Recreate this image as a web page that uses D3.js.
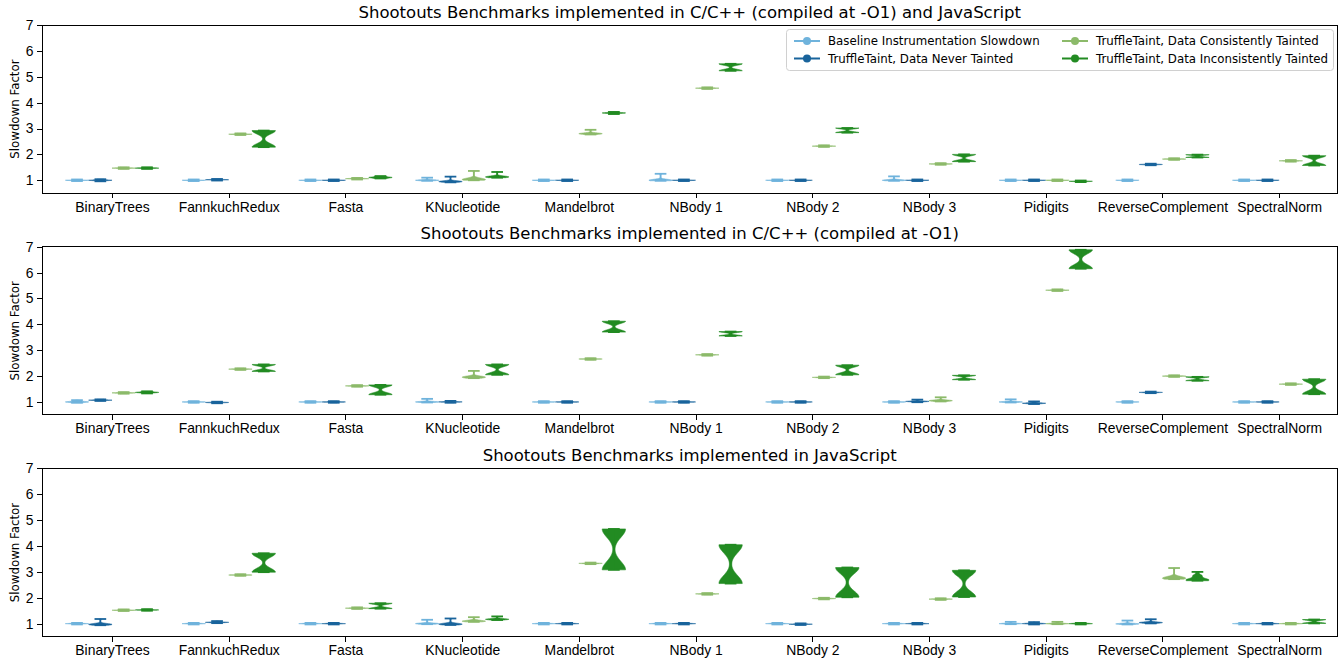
<!DOCTYPE html>
<meta charset="utf-8">
<style>
body { margin: 0; background: #fff; }
svg { font-family: "DejaVu Sans", sans-serif; }
.frame { fill: none; stroke: #000; stroke-width: 1; shape-rendering: crispEdges; }
.axis path { display: none; }
.axis line { stroke: #000; shape-rendering: crispEdges; }
.axis text { fill: #000; font-size: 13.9px; }
</style>
<body>
<svg id="chart" width="1342" height="659"></svg>
<script src="https://cdn.jsdelivr.net/npm/d3@7/dist/d3.min.js"></script>
<script>

var benchmarks = ["BinaryTrees", "FannkuchRedux", "Fasta", "KNucleotide", "Mandelbrot", "NBody 1",
                  "NBody 2", "NBody 3", "Pidigits", "ReverseComplement", "SpectralNorm"];
var seriesNames = ["Baseline Instrumentation Slowdown", "TruffleTaint, Data Never Tainted",
                   "TruffleTaint, Data Consistently Tainted", "TruffleTaint, Data Inconsistently Tainted"];
var seriesColors = ["#6fb3dc", "#19649c", "#8cba6a", "#228b22"];
var panelTitles = ["Shootouts Benchmarks implemented in C/C++ (compiled at -O1) and JavaScript",
                   "Shootouts Benchmarks implemented in C/C++ (compiled at -O1)",
                   "Shootouts Benchmarks implemented in JavaScript"];
var yTicks = [1, 2, 3, 4, 5, 6, 7];

// each violin = list of [slowdown, number of runs]
// panel 1: C/C++ and JavaScript
var bothBaseline = [
  [[0.97,2],[1.0,8],[1.03,2]], [[0.97,2],[1.0,8],[1.03,2]], [[0.97,2],[1.0,8],[1.03,2]],
  [[0.98,3],[1.0,10],[1.02,3],[1.1,1]], [[0.97,2],[1.0,8],[1.03,2]], [[0.98,3],[1.0,10],[1.02,3],[1.25,1]],
  [[0.97,2],[1.0,8],[1.03,2]], [[0.98,3],[1.0,10],[1.02,3],[1.15,1]], [[0.97,2],[1.0,8],[1.03,2]],
  [[0.97,2],[1.0,8],[1.03,2]], [[0.97,2],[1.0,8],[1.03,2]]
];
var bothNever = [
  [[0.96,2],[1.0,8],[1.04,2]], [[0.99,2],[1.02,8],[1.05,2]], [[0.97,2],[1.0,8],[1.03,2]],
  [[0.92,3],[0.95,10],[0.97,3],[1.14,1]], [[0.97,2],[1.0,8],[1.03,2]], [[0.97,2],[1.0,8],[1.03,2]],
  [[0.97,2],[1.0,8],[1.03,2]], [[0.97,2],[1.0,8],[1.03,2]], [[0.97,2],[1.0,8],[1.03,2]],
  [[1.58,2],[1.61,8],[1.64,2]], [[0.97,2],[1.0,8],[1.03,2]]
];
var bothConsistent = [
  [[1.44,2],[1.47,8],[1.5,2]], [[2.75,2],[2.78,8],[2.81,2]], [[1.03,2],[1.06,8],[1.09,2]],
  [[1.0,5],[1.03,8],[1.08,3],[1.36,1]], [[2.77,3],[2.8,10],[2.83,3],[2.95,1]], [[4.53,2],[4.56,8],[4.59,2]],
  [[2.29,2],[2.32,8],[2.35,2]], [[1.6,2],[1.63,8],[1.66,2]], [[0.97,2],[1.0,8],[1.03,2]],
  [[1.79,2],[1.82,8],[1.85,2]], [[1.72,2],[1.75,8],[1.78,2]]
];
var bothInconsistent = [
  [[1.44,3],[1.47,8],[1.5,3]], [[2.28,45],[2.92,45]], [[1.07,4],[1.11,8],[1.16,4]],
  [[1.1,5],[1.13,8],[1.16,4],[1.32,1]], [[3.56,3],[3.6,8],[3.64,3]], [[5.23,45],[5.5,45]],
  [[2.84,45],[3.02,45]], [[1.72,45],[2.0,45]], [[0.93,2],[0.96,8],[0.99,2]],
  [[1.88,30],[1.99,30]], [[1.57,45],[1.95,45]]
];

// panel 2: C/C++
var cBaseline = [
  [[0.97,3],[1.0,8],[1.03,3],[1.07,1]], [[0.97,2],[1.0,8],[1.03,2]], [[0.97,2],[1.0,8],[1.03,2]],
  [[0.98,3],[1.0,10],[1.02,3],[1.12,1]], [[0.97,2],[1.0,8],[1.03,2]], [[0.97,2],[1.0,8],[1.03,2]],
  [[0.97,2],[1.0,8],[1.03,2]], [[0.97,2],[1.0,8],[1.03,2]], [[0.98,3],[1.0,10],[1.02,3],[1.1,1]],
  [[0.97,2],[1.0,8],[1.03,2]], [[0.97,2],[1.0,8],[1.03,2]]
];
var cNever = [
  [[1.04,2],[1.07,8],[1.1,2]], [[0.95,2],[0.98,8],[1.01,2]], [[0.97,2],[1.0,8],[1.03,2]],
  [[0.97,3],[1.0,10],[1.02,3],[1.04,1]], [[0.97,2],[1.0,8],[1.03,2]], [[0.97,2],[1.0,8],[1.03,2]],
  [[0.97,2],[1.0,8],[1.03,2]], [[0.99,3],[1.02,10],[1.04,3],[1.09,1]], [[0.92,3],[0.95,10],[0.98,3],[1.02,1]],
  [[1.34,2],[1.37,8],[1.4,2]], [[0.97,2],[1.0,8],[1.03,2]]
];
var cConsistent = [
  [[1.32,2],[1.35,8],[1.38,2]], [[2.24,2],[2.27,8],[2.3,2]], [[1.59,2],[1.62,8],[1.65,2]],
  [[1.92,4],[1.96,10],[2.0,3],[2.2,1]], [[2.63,2],[2.66,8],[2.69,2]], [[2.79,2],[2.82,8],[2.85,2]],
  [[1.92,2],[1.95,8],[1.98,2]], [[1.02,4],[1.05,10],[1.08,3],[1.18,1]], [[5.29,2],[5.32,8],[5.35,2]],
  [[1.97,2],[2.0,8],[2.03,2]], [[1.66,2],[1.69,8],[1.72,2]]
];
var cInconsistent = [
  [[1.33,3],[1.37,8],[1.41,3]], [[2.18,45],[2.45,45]], [[1.28,45],[1.66,45]],
  [[2.05,45],[2.45,45]], [[3.7,45],[4.12,45]], [[3.55,40],[3.72,40]],
  [[2.05,45],[2.42,45]], [[1.86,40],[2.03,40]], [[6.15,45],[6.88,45]],
  [[1.82,40],[1.97,40]], [[1.3,45],[1.88,45]]
];

// panel 3: JavaScript
var jsBaseline = [
  [[0.97,2],[1.0,8],[1.03,2]], [[0.97,2],[1.0,8],[1.03,2]], [[0.97,2],[1.0,8],[1.03,2]],
  [[0.98,3],[1.0,10],[1.02,3],[1.15,1]], [[0.97,2],[1.0,8],[1.03,2]], [[0.97,2],[1.0,8],[1.03,2]],
  [[0.97,2],[1.0,8],[1.03,2]], [[0.97,2],[1.0,8],[1.03,2]], [[0.98,3],[1.0,10],[1.02,3],[1.07,1]],
  [[0.97,3],[0.99,10],[1.01,3],[1.12,1]], [[0.97,2],[1.0,8],[1.03,2]]
];
var jsNever = [
  [[0.94,3],[0.97,10],[1.0,3],[1.18,1]], [[1.02,3],[1.05,10],[1.07,3],[1.1,1]], [[0.97,2],[1.0,8],[1.03,2]],
  [[0.95,3],[0.98,10],[1.01,3],[1.2,1]], [[0.97,2],[1.0,8],[1.03,2]], [[0.97,2],[1.0,8],[1.03,2]],
  [[0.95,2],[0.98,8],[1.01,2]], [[0.97,2],[1.0,8],[1.03,2]], [[0.97,3],[1.0,10],[1.02,3],[1.06,1]],
  [[1.01,3],[1.04,10],[1.07,3],[1.17,1]], [[0.97,2],[1.0,8],[1.03,2]]
];
var jsConsistent = [
  [[1.49,2],[1.52,8],[1.55,2]], [[2.85,2],[2.88,8],[2.91,2]], [[1.57,2],[1.6,8],[1.63,2]],
  [[1.07,4],[1.1,10],[1.14,3],[1.25,1]], [[3.3,2],[3.33,8],[3.36,2]], [[2.12,2],[2.15,8],[2.18,2]],
  [[1.94,2],[1.97,8],[2.0,2]], [[1.92,2],[1.95,8],[1.98,2]], [[0.98,3],[1.0,10],[1.03,3],[1.07,1]],
  [[2.72,4],[2.76,10],[2.82,3],[3.15,1]], [[0.97,2],[1.0,8],[1.03,2]]
];
var jsInconsistent = [
  [[1.5,2],[1.53,8],[1.56,2]], [[2.99,45],[3.72,45]], [[1.58,40],[1.79,40]],
  [[1.14,4],[1.17,10],[1.2,3],[1.28,1]], [[3.08,45],[4.66,45]], [[2.55,45],[4.05,45]],
  [[2.02,45],[3.17,45]], [[2.03,45],[3.06,45]], [[0.97,3],[1.0,8],[1.03,3]],
  [[2.66,10],[2.72,8],[2.85,6],[3.0,2]], [[1.01,30],[1.16,30]]
];

var panels = [
  [bothBaseline, bothNever, bothConsistent, bothInconsistent],
  [cBaseline, cNever, cConsistent, cInconsistent],
  [jsBaseline, jsNever, jsConsistent, jsInconsistent]
];

var offsets = [-0.3, -0.1, 0.1, 0.3];
var violinWidth = 0.2;

var svg = d3.select("#chart");
var left = 42, right = 1337.5, panelH = 168.2;
var panelTops = [25, 246.7, 468.4];

var x = d3.scaleLinear().domain([-0.6, 10.5]).range([left, right]);

// gaussian kde like matplotlib's violinplot (scott bandwidth), 100 points between min and max
function kde(runs) {
  var n = d3.sum(runs, function(r) { return r[1]; });
  var mean = d3.sum(runs, function(r) { return r[0] * r[1]; }) / n;
  var variance = d3.sum(runs, function(r) { return r[1] * (r[0] - mean) * (r[0] - mean); }) / (n - 1);
  var bw = Math.sqrt(variance) * Math.pow(n, -0.2);
  var lo = d3.min(runs, function(r) { return r[0]; }),
      hi = d3.max(runs, function(r) { return r[0]; });
  var pts = d3.range(100).map(function(i) { return lo + (hi - lo) * i / 99; });
  var dens = pts.map(function(c) {
    return d3.sum(runs, function(r) { var z = (c - r[0]) / bw; return r[1] * Math.exp(-0.5 * z * z); });
  });
  var m = d3.max(dens);
  return { lo: lo, hi: hi, shape: pts.map(function(c, i) { return { v: c, w: dens[i] / m }; }) };
}

panels.forEach(function(series, p) {
  var top = panelTops[p];
  var y = d3.scaleLinear().domain([0.5, 7]).range([top + panelH, top]);
  var g = svg.append("g");

  g.append("g")
      .attr("class", "axis")
      .attr("transform", "translate(0," + (top + panelH) + ")")
      .call(d3.axisBottom(x).tickValues(d3.range(benchmarks.length)).tickSize(5).tickPadding(3.5)
        .tickFormat(function(i) { return benchmarks[i]; }));

  g.append("g")
      .attr("class", "axis")
      .attr("transform", "translate(" + left + ",0)")
      .call(d3.axisLeft(y).tickValues(yTicks).tickSize(5).tickPadding(3.5).tickFormat(d3.format("d")));

  var area = d3.area()
      .y(function(d) { return y(d.v); });

  series.forEach(function(violins, s) {
    var col = seriesColors[s];
    violins.forEach(function(runs, b) {
      var pos = b + offsets[s];
      var k = kde(runs);
      area.x0(function(d) { return x(pos - d.w * violinWidth / 2); })
          .x1(function(d) { return x(pos + d.w * violinWidth / 2); });
      g.append("path")
          .attr("d", area(k.shape))
          .attr("fill", col)
          .attr("stroke", col)
          .attr("stroke-width", 0.6);
      [k.lo, k.hi].forEach(function(v) {
        g.append("line")
            .attr("x1", x(pos - violinWidth / 4)).attr("x2", x(pos + violinWidth / 4))
            .attr("y1", y(v)).attr("y2", y(v))
            .attr("stroke", col).attr("stroke-width", 1.8);
      });
      g.append("line")
          .attr("x1", x(pos)).attr("x2", x(pos))
          .attr("y1", y(k.lo)).attr("y2", y(k.hi))
          .attr("stroke", col).attr("stroke-width", 1.8);
    });
  });

  g.append("rect")
      .attr("class", "frame")
      .attr("x", left).attr("y", top)
      .attr("width", right - left).attr("height", panelH);

  g.append("text")
      .attr("x", (left + right) / 2)
      .attr("y", top - 7.5)
      .attr("text-anchor", "middle")
      .style("font-size", "16.5px")
      .text(panelTitles[p]);

  g.append("text")
      .attr("transform", "translate(19," + (top + panelH / 2) + ") rotate(-90)")
      .attr("text-anchor", "middle")
      .style("font-size", "11.8px")
      .text("Slowdown Factor");
});

// legend in the first panel
var leg = svg.append("g");
leg.append("rect")
    .attr("x", 786.5).attr("y", 29.5)
    .attr("width", 547).attr("height", 41)
    .attr("rx", 3)
    .attr("fill", "#fff").attr("fill-opacity", 0.8)
    .attr("stroke", "#d0d0d0");

var legX = [794, 1062], legY = [41, 58.5];
seriesNames.forEach(function(name, i) {
  var cx = legX[Math.floor(i / 2)], cy = legY[i % 2];
  var item = leg.append("g").attr("transform", "translate(" + cx + "," + cy + ")");
  item.append("line").attr("x1", 0).attr("x2", 26).attr("y1", 0).attr("y2", 0)
      .attr("stroke", seriesColors[i]).attr("stroke-width", 2);
  item.append("circle").attr("cx", 13).attr("cy", 0).attr("r", 4).attr("fill", seriesColors[i]);
  item.append("text").attr("x", 34).attr("y", 4).style("font-size", "11.8px").text(name);
});

</script>
</body>
